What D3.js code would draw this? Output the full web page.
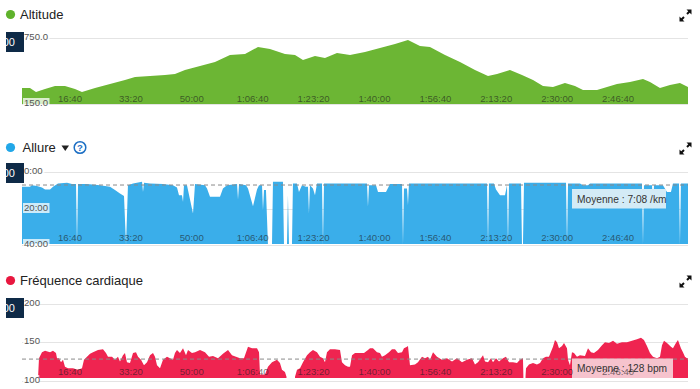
<!DOCTYPE html>
<html>
<head>
<style>
body {margin: 0; background: #fff; font-family: "Liberation Sans", Arial, sans-serif;}
</style>
<script src="https://cdnjs.cloudflare.com/ajax/libs/d3/7.8.5/d3.min.js"></script>
</head>
<body>
<div id="chart-container"></div>
<script>
    // time axis ticks, in seconds
    const tickSeconds = [1000, 2000, 3000, 4000, 5000, 6000, 7000, 8000, 9000, 10000];

    // altitude (m)
    const altTime = [212, 343, 442, 590, 754, 918, 1082, 1197, 1411, 1657, 1903, 2068, 2314, 2560, 2724, 2888, 3135, 3381, 3627, 3874, 4087, 4284, 4530, 4695, 4826, 5023, 5187, 5384, 5598, 5844, 6090, 6337, 6550, 6747, 6911, 7158, 7404, 7650, 7864, 8012, 8225, 8422, 8603, 8767, 8931, 9128, 9292, 9424, 9654, 9818, 9982, 10195, 10409, 10524, 10688, 10852, 11016, 11148];
    const altValue = [295, 295, 259, 286, 314, 314, 286, 259, 295, 332, 368, 395, 405, 414, 423, 459, 495, 532, 595, 605, 668, 650, 605, 595, 550, 586, 568, 614, 595, 623, 659, 695, 732, 677, 668, 595, 532, 459, 405, 423, 459, 414, 368, 314, 305, 341, 314, 277, 277, 305, 332, 350, 377, 350, 295, 323, 341, 305];
    const altTicks = [150, 750];

    // pace (min/km)
    const paceTime = [212, 343, 376, 458, 540, 590, 672, 721, 803, 951, 1033, 1099, 1115, 1132, 1279, 1493, 1657, 1739, 1821, 1887, 1920, 1952, 2035, 2183, 2199, 2216, 2314, 2527, 2691, 2757, 2790, 2839, 2856, 2872, 2921, 3020, 3053, 3217, 3250, 3299, 3463, 3512, 3578, 3743, 3759, 3776, 3890, 3923, 4005, 4071, 4104, 4153, 4169, 4186, 4218, 4251, 4317, 4333, 4497, 4514, 4563, 4579, 4596, 4645, 4661, 4727, 4760, 4809, 4875, 4908, 4924, 4941, 4990, 5023, 5056, 5138, 5154, 5171, 5877, 5893, 5910, 6025, 6058, 6189, 6255, 6452, 6468, 6484, 6534, 6550, 6566, 7848, 7864, 7880, 7962, 7995, 8061, 8143, 8176, 8192, 8209, 8406, 8422, 8438, 8455, 9145, 9161, 9178, 9374, 9424, 9506, 9539, 10392, 10409, 10425, 10557, 10573, 10590, 10737, 10803, 10868, 10901, 11000, 11016, 11032, 11148];
    const paceValue = [8.1, 8.1, 7.2, 7.7, 8.5, 9.6, 9.6, 8.1, 6.3, 5.9, 6.6, 6.6, 40, 6.6, 6.6, 7.2, 8.1, 9.9, 11.8, 13.2, 40, 7.2, 6.3, 5.3, 10.9, 5.9, 6.3, 6.6, 7.2, 8.5, 12.7, 12.7, 16.4, 7.2, 7.2, 22.8, 6.6, 7.2, 9, 13.6, 13.6, 9, 7.2, 6.6, 15, 6.6, 7.2, 9, 18.8, 9.6, 7.2, 7.2, 21, 9.9, 9.9, 40, 40, 5.3, 5.3, 40, 40, 12.7, 40, 40, 6.3, 6.3, 10.9, 7.2, 8.1, 8.1, 22.8, 7.2, 9, 12.7, 6.3, 6.3, 40, 6.3, 6.3, 19.1, 7.2, 7.2, 10.9, 10.9, 6.6, 6.6, 40, 9, 9, 18.2, 6.3, 6.3, 40, 6.3, 6.3, 9.6, 12.7, 12.7, 7.2, 40, 6.3, 6.3, 40, 40, 5.9, 5.9, 40, 6.3, 6.3, 7.2, 7.2, 6.3, 6.3, 40, 7.2, 7.2, 21, 7.2, 7.2, 10.9, 10.9, 6.3, 6.3, 40, 6.3, 6.3];
    const paceTicks = [0, 20, 40];
    const paceAvg = 7 + 8 / 60;

    // heart rate (bpm), null = no signal
    const hrTime = [475, 491, 540, 590, 672, 721, 770, 787, 820, 852, 885, 918, 967, 1049, 1132, 1197, 1230, 1279, 1329, 1378, 1460, 1542, 1591, 1624, 1690, 1739, 1788, 1821, 1870, 1903, 1936, 1985, 2035, 2084, 2117, 2166, 2215, 2265, 2314, 2363, 2396, 2429, 2478, 2527, 2593, 2642, 2691, 2724, 2757, 2806, 2856, 2905, 2938, 3003, 3053, 3135, 3217, 3283, 3348, 3430, 3512, 3595, 3660, 3726, 3792, 3857, 3923, 3989, 4071, 4104, 4120, 4202, 4251, 4317, 4399, 4448, 4481, 4530, 4555, 4600, 4695, 4728, 4777, 4826, 4892, 4941, 4990, 5056, 5105, 5154, 5187, 5220, 5269, 5351, 5434, 5466, 5516, 5565, 5598, 5631, 5680, 5762, 5828, 5893, 5926, 5975, 6041, 6090, 6123, 6173, 6238, 6287, 6337, 6386, 6452, 6484, 6534, 6550, 6583, 6665, 6714, 6780, 6829, 6879, 6911, 6961, 7026, 7108, 7190, 7273, 7355, 7437, 7519, 7601, 7650, 7700, 7782, 7815, 7864, 7913, 7946, 7995, 8045, 8110, 8159, 8209, 8274, 8340, 8389, 8438, 8445, 8460, 8480, 8488, 8537, 8603, 8668, 8718, 8767, 8816, 8865, 8931, 8964, 8997, 9030, 9079, 9112, 9161, 9178, 9210, 9243, 9276, 9325, 9374, 9456, 9506, 9555, 9604, 9670, 9736, 9785, 9851, 9917, 9982, 10064, 10146, 10228, 10310, 10376, 10425, 10474, 10524, 10573, 10639, 10688, 10721, 10754, 10803, 10868, 10901, 10950, 10983, 11032, 11065, 11098, 11131, 11148];
    const hrValue = [103, 129, 137, 139, 137, 139, 136, 129, 129, 124, 127, 118, 116, 116, 114, 116, 127, 131, 135, 137, 140, 141, 136, 131, 131, 127, 131, 125, 133, 136, 124, 123, 136, 137, 131, 127, 120, 124, 133, 136, 131, 120, 116, 127, 131, 129, 127, 136, 140, 136, 142, 133, 140, 136, 137, 140, 137, 131, 132, 129, 135, 140, 133, 131, 129, 129, 144, 142, 142, 137, 108, 108, 118, 124, 127, 123, 114, 111, 105, null, 105, 114, 116, 124, 133, 137, 140, 137, 131, 129, 124, 137, 141, 141, 140, 124, 120, 118, 118, 133, 136, 136, 136, 140, 142, 142, 137, 136, 131, 133, 137, 141, 141, 136, 137, 142, 144, 145, 120, 121, 124, 131, 129, 131, 127, 137, 131, 127, 129, 125, 129, 124, 127, 129, 121, 124, 133, 125, 124, 129, 124, 129, 125, 129, 131, 124, 124, 123, 127, 129, 105, null, 105, 116, 121, 123, 121, 123, 129, 131, 131, 144, 153, 150, 142, 145, 149, 142, 127, 120, 137, 136, 131, 133, 132, 142, 137, 136, 140, 146, 150, 149, 152, 148, 150, 150, 152, 154, 156, 153, 145, 136, 131, 129, 131, 146, 152, 149, 144, 142, 149, 153, 142, 137, 131, 129, 129];
    const hrTicks = [100, 150, 200];
    const hrAvg = 128;

    const width = 700, height = 389;
    const plotLeft = 22, plotRight = 688;

    const svg = d3.select("#chart-container")
        .append("svg")
        .attr("width", width)
        .attr("height", height);

    const x = d3.scaleLinear().domain([212, 11148]).range([plotLeft, plotRight]);

    const pad = n => String(n).padStart(2, "0");
    function clock(s) {
        s = Math.round(s);
        const h = Math.floor(s / 3600), m = Math.floor(s % 3600 / 60), sec = s % 60;
        return h ? h + ":" + pad(m) + ":" + pad(sec) : m + ":" + pad(sec);
    }

    function expandIcon(cx, cy) {
        const g = svg.append("g").attr("fill", "#111").attr("stroke", "#111");
        g.append("path").attr("stroke", "none")
            .attr("d", `M${cx+6},${cy-6}L${cx+6},${cy-1}L${cx+1},${cy-6}Z M${cx-6},${cy+6}L${cx-6},${cy+1}L${cx-1},${cy+6}Z`);
        g.append("path").attr("stroke-width", 2)
            .attr("d", `M${cx+4},${cy-4}L${cx+1.5},${cy-1.5} M${cx-4},${cy+4}L${cx-1.5},${cy+1.5}`);
    }

    function drawPanel(p) {
        const y = d3.scaleLinear().domain(p.domain).range(p.range);
        const top = Math.min(p.range[0], p.range[1]);
        const data = p.time.map((t, i) => ({t: t, v: p.value[i]}));

        // title
        svg.append("circle").attr("cx", 10.5).attr("cy", p.titleY).attr("r", 4.6).attr("fill", p.dot);
        svg.append("text").attr("x", p.titleX).attr("y", p.titleY + 4.6)
            .attr("font-size", 13).attr("fill", "#222").text(p.title);
        expandIcon(685.5, p.titleY + 1);

        // grid
        svg.append("g").selectAll("line").data(p.ticks).join("line")
            .attr("x1", plotLeft).attr("x2", plotRight)
            .attr("y1", d => Math.round(y(d)) + 0.5).attr("y2", d => Math.round(y(d)) + 0.5)
            .attr("stroke", "#e4e4e4");

        const clipId = "clip" + p.id;
        svg.append("clipPath").attr("id", clipId).append("rect")
            .attr("x", plotLeft).attr("y", top - 12)
            .attr("width", plotRight - plotLeft).attr("height", p.clipBottom - top + 12);

        const area = d3.area()
            .defined(d => d.v != null)
            .x(d => x(d.t))
            .y0(y(p.base))
            .y1(d => y(d.v));

        svg.append("path").datum(data)
            .attr("clip-path", `url(#${clipId})`)
            .attr("fill", p.fill)
            .attr("d", area);

        if (p.avg != null) {
            svg.append("line")
                .attr("x1", plotLeft).attr("x2", plotRight)
                .attr("y1", y(p.avg)).attr("y2", y(p.avg))
                .attr("stroke", "#8a8a8a").attr("stroke-dasharray", "4,3");
            svg.append("rect").attr("x", 572).attr("y", p.boxY)
                .attr("width", p.boxW).attr("height", 19.5)
                .attr("fill", p.boxFill);
            svg.append("text").attr("x", 577).attr("y", p.boxY + 13.8)
                .attr("font-size", 10.2).attr("fill", "#333").text(p.avgText);
        }

        // time labels inside the plot
        svg.append("g").selectAll("text").data(tickSeconds).join("text")
            .attr("x", d => x(d)).attr("y", p.clipBottom - 3)
            .attr("text-anchor", "middle")
            .attr("font-size", 9.6)
            .attr("fill", "#1c1c1c").attr("fill-opacity", 0.62)
            .text(d => clock(d));

        // value labels
        const lab = svg.append("g").selectAll("g").data(p.ticks).join("g")
            .attr("transform", d => `translate(24,${Math.round(y(d)) + 2})`);
        lab.append("rect").attr("x", -1).attr("y", -8).attr("height", 10)
            .attr("width", d => p.fmt(d).length * 5.1 + 1)
            .attr("fill", "#fff").attr("fill-opacity", 0.75);
        lab.append("text").attr("font-size", 9.6).attr("fill", "#555").text(d => p.fmt(d));

        // dark marker box on the left edge
        const boxClip = "box" + p.id;
        svg.append("clipPath").attr("id", boxClip).append("rect")
            .attr("x", 6).attr("y", p.markY).attr("width", 18).attr("height", 20);
        svg.append("rect").attr("x", 6).attr("y", p.markY).attr("width", 18).attr("height", 20).attr("fill", "#0e2a47");
        svg.append("text").attr("clip-path", `url(#${boxClip})`)
            .attr("x", 15).attr("y", p.markY + 14).attr("text-anchor", "end")
            .attr("font-size", 11).attr("fill", "#fff").text("00");
    }

    drawPanel({
        id: 1, title: "Altitude", titleX: 20, titleY: 14.5, dot: "#5fb22b", fill: "#6cb634",
        domain: [150, 750], range: [104, 38], clipBottom: 104.5, base: 150,
        ticks: altTicks, fmt: d3.format(".1f"),
        time: altTime, value: altValue, markY: 32
    });

    drawPanel({
        id: 2, title: "Allure", titleX: 22.5, titleY: 147.5, dot: "#22a7e8", fill: "#3aaeea",
        domain: [0, 40], range: [172, 245], clipBottom: 244, base: 40,
        ticks: paceTicks, fmt: d => clock(d * 60),
        time: paceTime, value: paceValue, markY: 163,
        avg: paceAvg, avgText: "Moyenne : " + clock(paceAvg * 60) + " /km",
        boxY: 189, boxW: 94, boxFill: "#d3ebf6"
    });

    drawPanel({
        id: 3, title: "Fréquence cardiaque", titleX: 20, titleY: 280.5, dot: "#e8173f", fill: "#ef2450",
        domain: [100, 200], range: [380.5, 304], clipBottom: 378, base: 100,
        ticks: hrTicks, fmt: d => String(d),
        time: hrTime, value: hrValue, markY: 298,
        avg: hrAvg, avgText: "Moyenne : " + hrAvg + " bpm",
        boxY: 358.5, boxW: 101, boxFill: "#f6c3cd"
    });

    // dropdown arrow and help icon next to "Allure"
    svg.append("path").attr("d", "M61.5,145.5L69,145.5L65.25,151Z").attr("fill", "#222");
    svg.append("circle").attr("cx", 80).attr("cy", 147.5).attr("r", 5.8)
        .attr("fill", "none").attr("stroke", "#1d6fc4").attr("stroke-width", 1.5);
    svg.append("text").attr("x", 80).attr("y", 151.2).attr("text-anchor", "middle")
        .attr("font-size", 9.5).attr("font-weight", "bold").attr("fill", "#1d6fc4").text("?");
</script>
</body>
</html>
